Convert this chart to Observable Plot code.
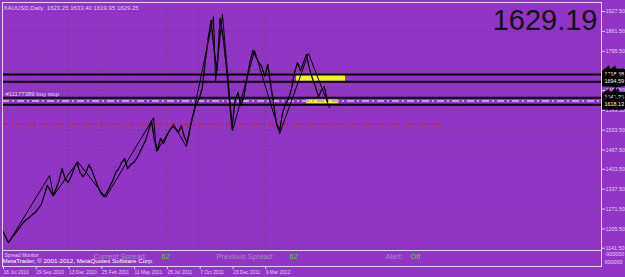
<!DOCTYPE html>
<html>
<head>
<meta charset="utf-8">
<script src="https://cdn.jsdelivr.net/npm/d3@7"></script>
<script src="https://cdn.jsdelivr.net/npm/@observablehq/plot@0.6"></script>
<style>
  html, body { margin: 0; padding: 0; background: #9234c6; overflow: hidden; }
  svg { display: block; }
</style>
</head>
<body>
<div id="chart"></div>
<script>
// ---- data ----
const symbolHeader = "XAUUSD,Daily  1623.25 1633.40 1619.95 1629.25";
const bigPrice = "1629.19";
const dateLabels = ["16 Jul 2010","29 Sep 2010","13 Dec 2010","25 Feb 2011","11 May 2011","25 Jul 2011","7 Oct 2011","23 Dec 2011","9 Mar 2012"];
const dateTickBars = [0, 11, 22, 33, 44, 55, 66, 77, 88];
const priceTicks = [1927.5, 1861.5, 1795.5, 1731.5, 1665.5, 1599.5, 1533.5, 1467.5, 1403.5, 1337.5, 1271.5, 1205.5, 1141.5];
const closes = [
  1200,1180,1160,1174,1187,1200,1213,1227,1237,1243,
  1253,1260,1273,1287,1316,1350,1333,1316,1340,1366,
  1406,1373,1360,1379,1406,1426,1393,1379,1393,1419,
  1400,1373,1346,1326,1313,1326,1346,1366,1393,1406,
  1426,1439,1406,1419,1426,1439,1459,1479,1499,1532,
  1565,1499,1466,1506,1489,1512,1532,1546,1539,1526,
  1549,1512,1492,1546,1585,1619,1638,1672,1758,1838,
  1898,1798,1732,1904,1844,1758,1649,1539,1632,1659,
  1615,1645,1705,1758,1798,1778,1758,1745,1712,1751,
  1685,1619,1552,1532,1592,1619,1638,1672,1725,1758,
  1731,1758,1785,1738,1705,1678,1645,1665,1678,1629
];
const zigzagBars   = [2.0, 15.8, 17.1, 25.2, 34.6, 50.7, 51.7, 57.4, 61.7, 70.8, 71.5, 73.8, 77.2, 84.6, 93.0, 102.7, 109.7];
const zigzagPrices = [1160, 1383, 1316, 1429, 1310, 1575, 1463, 1552, 1479, 1911, 1698, 1918, 1532, 1798, 1522, 1788, 1609];
const levelPrices = [1718.58, 1694.59, 1641.36, 1618.13];
const levelLabels = ["1718.58", "1694.59", "1641.36", "1618.13"];
const buyStopPrice = 1630;
const buyStopLabel = "#11177389 buy stop";
const redLevel = 1553;
const redLevelEndBar = 148;
const yellowBoxes = [
  {bar1: 98.7, bar2: 115.1, low: 1694.59, high: 1718.58},
  {bar1: 102.0, bar2: 112.8, low: 1621, high: 1634}
];
const panelTitle = "Spread Monitor";
const copyright = "MetaTrader, \u00A9 2001-2012, MetaQuotes Software Corp.";
const spreadLabels = ["Current Spread:", "Previous Spread:", "Alert:"];
const spreadValues = ["62", "62", "Off"];
const panelScale = ["-900000", "900000"];

// ---- build ----
const closeData = closes.map((c, i) => ({bar: i, price: c}));
const zigzagData = zigzagBars.map((b, i) => ({bar: b, price: zigzagPrices[i]}));
const levelData = levelPrices.map((p, i) => ({price: p, label: levelLabels[i]}));

const BG = "#9234c6";
const FONT = "Liberation Sans, Arial, sans-serif";
const GRID = "#5d3c78";
const LIGHT = "#e6d2f4";

const chart = Plot.plot({
  width: 625,
  height: 277,
  marginLeft: 2,
  marginRight: 24,
  marginTop: 2,
  marginBottom: 27,
  style: {background: BG, fontFamily: FONT, fontSize: "6px", color: "white"},
  x: {domain: [0, 201], axis: null},
  y: {domain: [1133.9, 1957.4], axis: null},
  marks: [
    Plot.gridY(priceTicks, {stroke: GRID, strokeOpacity: 0.8, strokeDasharray: "1,3"}),
    Plot.gridX(dateTickBars, {stroke: GRID, strokeOpacity: 0.8, strokeDasharray: "1,3"}),
    Plot.ruleY([redLevel], {x1: 0, x2: redLevelEndBar, stroke: "#b8245c", strokeWidth: 1.5, strokeDasharray: "6,3,2,3"}),
    Plot.rect(yellowBoxes, {x1: "bar1", x2: "bar2", y1: "low", y2: "high", fill: "#f4f420"}),
    Plot.ruleY([buyStopPrice], {stroke: "#c79be6", strokeWidth: 2, strokeDasharray: "7,3,2,3"}),
    Plot.ruleY(levelData, {y: "price", stroke: "black", strokeWidth: 2}),
    Plot.line(closeData, {x: "bar", y: "price", stroke: "black", strokeWidth: 1.3}),
    Plot.line(zigzagData, {x: "bar", y: "price", stroke: "black", strokeWidth: 1}),
    Plot.text([buyStopLabel], {x: 0, y: buyStopPrice, text: d => d, textAnchor: "start", dx: 3, dy: -7, fill: LIGHT, fontSize: 6}),
    Plot.text([symbolHeader], {frameAnchor: "top-left", text: d => d, textAnchor: "start", lineAnchor: "middle", dx: 1, dy: 6, fill: LIGHT, fontSize: 6}),
    Plot.text([bigPrice], {frameAnchor: "top-right", text: d => d, textAnchor: "end", lineAnchor: "top", dx: -4, dy: 7, fill: "#111", fontSize: 29, fontFamily: FONT}),
    Plot.axisY(priceTicks, {anchor: "right", tickSize: 3, tickPadding: 1, tickFormat: d => d.toFixed(2), stroke: LIGHT, fill: LIGHT, fontSize: 5.4, label: null}),
    Plot.text(levelData, {y: "price", frameAnchor: "right", text: "label", textAnchor: "start", dx: 3, fill: "white", stroke: "black", strokeWidth: 7, strokeLinejoin: "miter", fontSize: 5.4}),
    Plot.frame({stroke: LIGHT, strokeWidth: 1}),
    Plot.frame({insetTop: 248, insetBottom: -16, stroke: LIGHT, strokeWidth: 1}),
    Plot.text([panelTitle], {frameAnchor: "bottom-left", text: d => d, textAnchor: "start", lineAnchor: "middle", dx: 2, dy: 5, fill: LIGHT, fontSize: 5}),
    Plot.text([copyright], {frameAnchor: "bottom-left", text: d => d, textAnchor: "start", lineAnchor: "middle", dx: 0, dy: 11, fill: "white", fontSize: 6.2}),
    Plot.text([spreadLabels[0]], {frameAnchor: "bottom-left", text: d => d, textAnchor: "start", lineAnchor: "middle", dx: 91, dy: 6, fill: "#a98fc6", fontSize: 7.5}),
    Plot.text([spreadValues[0]], {frameAnchor: "bottom-left", text: d => d, textAnchor: "start", lineAnchor: "middle", dx: 159, dy: 6, fill: "#49d84a", fontSize: 7.5}),
    Plot.text([spreadLabels[1]], {frameAnchor: "bottom-left", text: d => d, textAnchor: "start", lineAnchor: "middle", dx: 214, dy: 6, fill: "#a98fc6", fontSize: 7.5}),
    Plot.text([spreadValues[1]], {frameAnchor: "bottom-left", text: d => d, textAnchor: "start", lineAnchor: "middle", dx: 287, dy: 6, fill: "#49d84a", fontSize: 7.5}),
    Plot.text([spreadLabels[2]], {frameAnchor: "bottom-left", text: d => d, textAnchor: "start", lineAnchor: "middle", dx: 383, dy: 6, fill: "#a98fc6", fontSize: 7.5}),
    Plot.text([spreadValues[2]], {frameAnchor: "bottom-left", text: d => d, textAnchor: "start", lineAnchor: "middle", dx: 408, dy: 6, fill: "#49d84a", fontSize: 7.5}),
    Plot.text([panelScale[0]], {frameAnchor: "bottom-right", text: d => d, textAnchor: "start", lineAnchor: "middle", dx: 3, dy: 4, fill: LIGHT, fontSize: 5.4}),
    Plot.text([panelScale[1]], {frameAnchor: "bottom-right", text: d => d, textAnchor: "start", lineAnchor: "middle", dx: 3, dy: 12, fill: LIGHT, fontSize: 5.4}),
    Plot.axisX(dateTickBars, {anchor: "bottom", dy: 16, tickSize: 3, tickPadding: 1, tickFormat: (d, i) => dateLabels[i], textAnchor: "start", dx: 1, stroke: LIGHT, fill: LIGHT, fontSize: 4.9, label: null})
  ]
});
document.getElementById("chart").appendChild(chart);
</script>
</body>
</html>
